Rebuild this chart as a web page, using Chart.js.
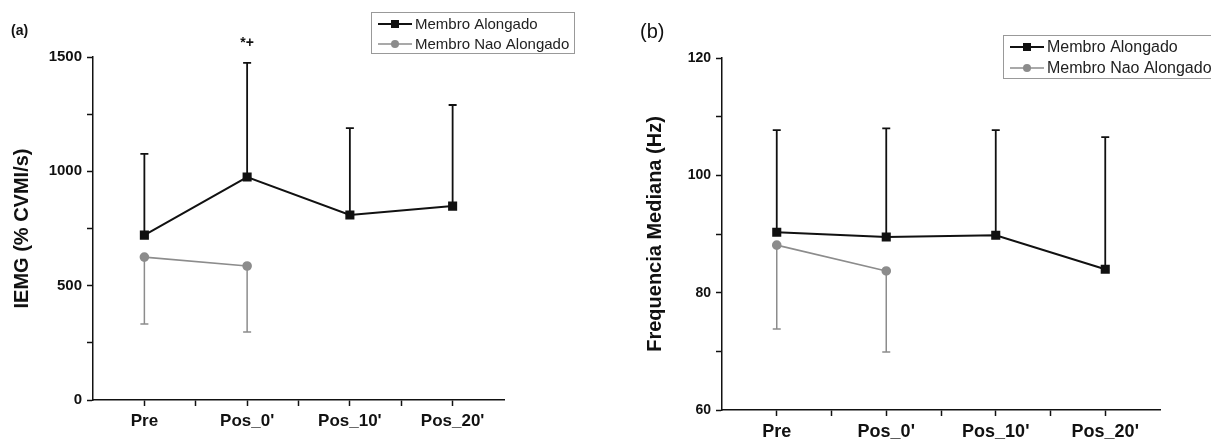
<!DOCTYPE html>
<html>
<head>
<meta charset="utf-8">
<script src="https://cdn.jsdelivr.net/npm/chart.js"></script>
<style>
  body { margin: 0; background: #fff; }
  .panel { position: absolute; top: 0; }
  .tag { position: absolute; font-family: 'Liberation Sans', Arial, sans-serif; color: #111; }
</style>
</head>
<body>
<div class="panel" style="left:0px"><canvas id="chartA" width="600" height="440"></canvas></div>
<div class="panel" style="left:600px"><canvas id="chartB" width="611" height="440"></canvas></div>
<div class="tag" style="left:11px; top:22px; font-size:14px; font-weight:bold">(a)</div>
<div class="tag" style="left:640px; top:20px; font-size:20px">(b)</div>
<script>
// values
const categories = ['Pre', "Pos_0'", "Pos_10'", "Pos_20'"];

const iemgAlongado = [721, 975, 809, 848];
const iemgAlongadoSD = [355, 499, 380, 442];
const iemgNaoAlongado = [625, 586];
const iemgNaoAlongadoSD = [293, 289];
const iemgMarks = ['', '*+', '', ''];

const freqAlongado = [90.3, 89.5, 89.8, 84.0];
const freqAlongadoSD = [17.4, 18.5, 17.9, 22.5];
const freqNaoAlongado = [88.1, 83.7];
const freqNaoAlongadoSD = [14.3, 13.8];

const labelA = 'Membro Alongado';
const labelN = 'Membro Nao Alongado';

const BLACK = '#111111';
const GREY = '#8c8c8c';
const tickFont = "'Liberation Sans', Arial, sans-serif";

function toPoints(vals) {
  return vals.map((v, i) => ({x: i + 1, y: v}));
}

// vertical error bars, one side only (dir 1 = up, -1 = down)
const errorBars = {
  id: 'errorBars',
  beforeDatasetsDraw(chart) {
    const ctx = chart.ctx;
    const xs = chart.scales.x, ys = chart.scales.y;
    chart.data.datasets.forEach(ds => {
      if (!ds.err) return;
      ctx.save();
      ctx.strokeStyle = ds.borderColor;
      ctx.lineWidth = ds.errWidth;
      ds.data.forEach((p, i) => {
        const x = xs.getPixelForValue(p.x);
        const y0 = ys.getPixelForValue(p.y);
        const y1 = ys.getPixelForValue(p.y + ds.errDir * ds.err[i]);
        ctx.beginPath();
        ctx.moveTo(x, y0); ctx.lineTo(x, y1);
        ctx.moveTo(x - 4, y1); ctx.lineTo(x + 4, y1);
        ctx.stroke();
      });
      ctx.restore();
    });
  },
  afterDatasetsDraw(chart, args, opts) {
    if (!opts.marks) return;
    const ctx = chart.ctx;
    const ds = chart.data.datasets[0];
    ctx.save();
    ctx.fillStyle = BLACK;
    ctx.font = 'bold 14px "Liberation Sans", Arial';
    ctx.textAlign = 'center';
    ctx.textBaseline = 'middle';
    opts.marks.forEach((m, i) => {
      if (!m) return;
      const p = ds.data[i];
      const x = chart.scales.x.getPixelForValue(p.x);
      const y = chart.scales.y.getPixelForValue(p.y + ds.err[i]);
      ctx.fillText(m, x, y - 20);
    });
    ctx.restore();
  }
};

// boxed legend like the origin plot
const boxLegend = {
  id: 'boxLegend',
  afterDraw(chart, args, o) {
    const ctx = chart.ctx;
    ctx.save();
    ctx.strokeStyle = '#999';
    ctx.lineWidth = 1;
    ctx.strokeRect(o.x + 0.5, o.y + 0.5, o.w, o.h);
    ctx.font = o.size + 'px "Liberation Sans", Arial';
    ctx.textBaseline = 'middle';
    chart.data.datasets.forEach((ds, i) => {
      const y = o.y + o.row0 + i * o.rowGap;
      ctx.strokeStyle = ds.borderColor;
      ctx.lineWidth = ds.borderWidth;
      ctx.beginPath();
      ctx.moveTo(o.x + 7, y); ctx.lineTo(o.x + 41, y);
      ctx.stroke();
      ctx.fillStyle = ds.borderColor;
      const cx = o.x + 24;
      if (ds.pointStyle === 'rect') {
        ctx.fillRect(cx - 4, y - 4, 8, 8);
      } else {
        ctx.beginPath(); ctx.arc(cx, y, 4, 0, Math.PI * 2); ctx.fill();
      }
      ctx.fillStyle = '#222';
      ctx.fillText(ds.label, o.x + 44, y + 1);
    });
    ctx.restore();
  }
};

function makeChart(id, cfg) {
  return new Chart(document.getElementById(id), {
    type: 'scatter',
    data: {
      datasets: [{
        label: labelA,
        data: toPoints(cfg.a),
        err: cfg.aSD, errDir: 1, errWidth: 1.8,
        showLine: true,
        borderColor: BLACK, backgroundColor: BLACK,
        borderWidth: 2,
        pointStyle: 'rect', pointRadius: 5, pointHoverRadius: 5
      }, {
        label: labelN,
        data: toPoints(cfg.n),
        err: cfg.nSD, errDir: -1, errWidth: 1.5,
        showLine: true,
        borderColor: GREY, backgroundColor: GREY,
        borderWidth: 1.6,
        pointStyle: 'circle', pointRadius: 4, pointHoverRadius: 4
      }]
    },
    options: {
      responsive: false,
      animation: false,
      layout: {padding: cfg.pad},
      plugins: {
        legend: {display: false},
        tooltip: {enabled: false},
        errorBars: {marks: cfg.marks},
        boxLegend: cfg.legend
      },
      scales: {
        x: {
          type: 'linear', min: 0.5, max: 4.5,
          afterFit: s => { s.height = cfg.xH; },
          border: {display: true, color: BLACK, width: 1.5},
          grid: {
            drawOnChartArea: false, drawTicks: true, tickLength: 6, tickWidth: 1.5,
            tickColor: c => (c.tick && (c.tick.value === 0.5 || c.tick.value === 4.5)) ? 'rgba(0,0,0,0)' : BLACK
          },
          ticks: {
            stepSize: 0.5, autoSkip: false, maxRotation: 0, padding: 5,
            color: BLACK,
            font: {family: tickFont, size: cfg.xFont, weight: 'bold'},
            callback: v => Number.isInteger(v) && v >= 1 && v <= categories.length ? categories[v - 1] : ''
          }
        },
        y: {
          min: cfg.yMin, max: cfg.yMax,
          afterFit: s => { s.width = cfg.yW; },
          border: {display: true, color: BLACK, width: 1.5},
          grid: {drawOnChartArea: false, drawTicks: true, tickLength: 6, tickWidth: 1.5, tickColor: BLACK},
          ticks: {
            stepSize: cfg.yStep / 2, autoSkip: false, padding: 5,
            color: BLACK,
            font: {family: tickFont, size: cfg.yFont, weight: 'bold'},
            callback: v => (v % cfg.yStep === 0) ? v : ''
          },
          title: {
            display: true, text: cfg.yTitle, color: BLACK,
            font: {family: "'Liberation Sans', Arial, sans-serif", size: 20, weight: 'bold'},
            padding: {top: cfg.titlePad, bottom: 0}
          }
        }
      }
    },
    plugins: [errorBars, boxLegend]
  });
}

makeChart('chartA', {
  a: iemgAlongado, aSD: iemgAlongadoSD, n: iemgNaoAlongado, nSD: iemgNaoAlongadoSD,
  marks: iemgMarks,
  yMin: 0, yMax: 1500, yStep: 500, yTitle: 'IEMG (% CVMI/s)',
  pad: {left: 0, right: 96, top: 57, bottom: 0},
  yW: 93, xH: 40, xFont: 17, yFont: 15, titlePad: 10,
  legend: {x: 371, y: 12, w: 203, h: 41, row0: 12, rowGap: 20, size: 15}
});

makeChart('chartB', {
  a: freqAlongado, aSD: freqAlongadoSD, n: freqNaoAlongado, nSD: freqNaoAlongadoSD,
  marks: null,
  yMin: 60, yMax: 120, yStep: 20, yTitle: 'Frequencia Mediana (Hz)',
  pad: {left: 0, right: 51, top: 58, bottom: 0},
  yW: 122, xH: 30, xFont: 18, yFont: 14, titlePad: 43,
  legend: {x: 403, y: 35, w: 230, h: 43, row0: 12, rowGap: 21, size: 16}
});
</script>
</body>
</html>
